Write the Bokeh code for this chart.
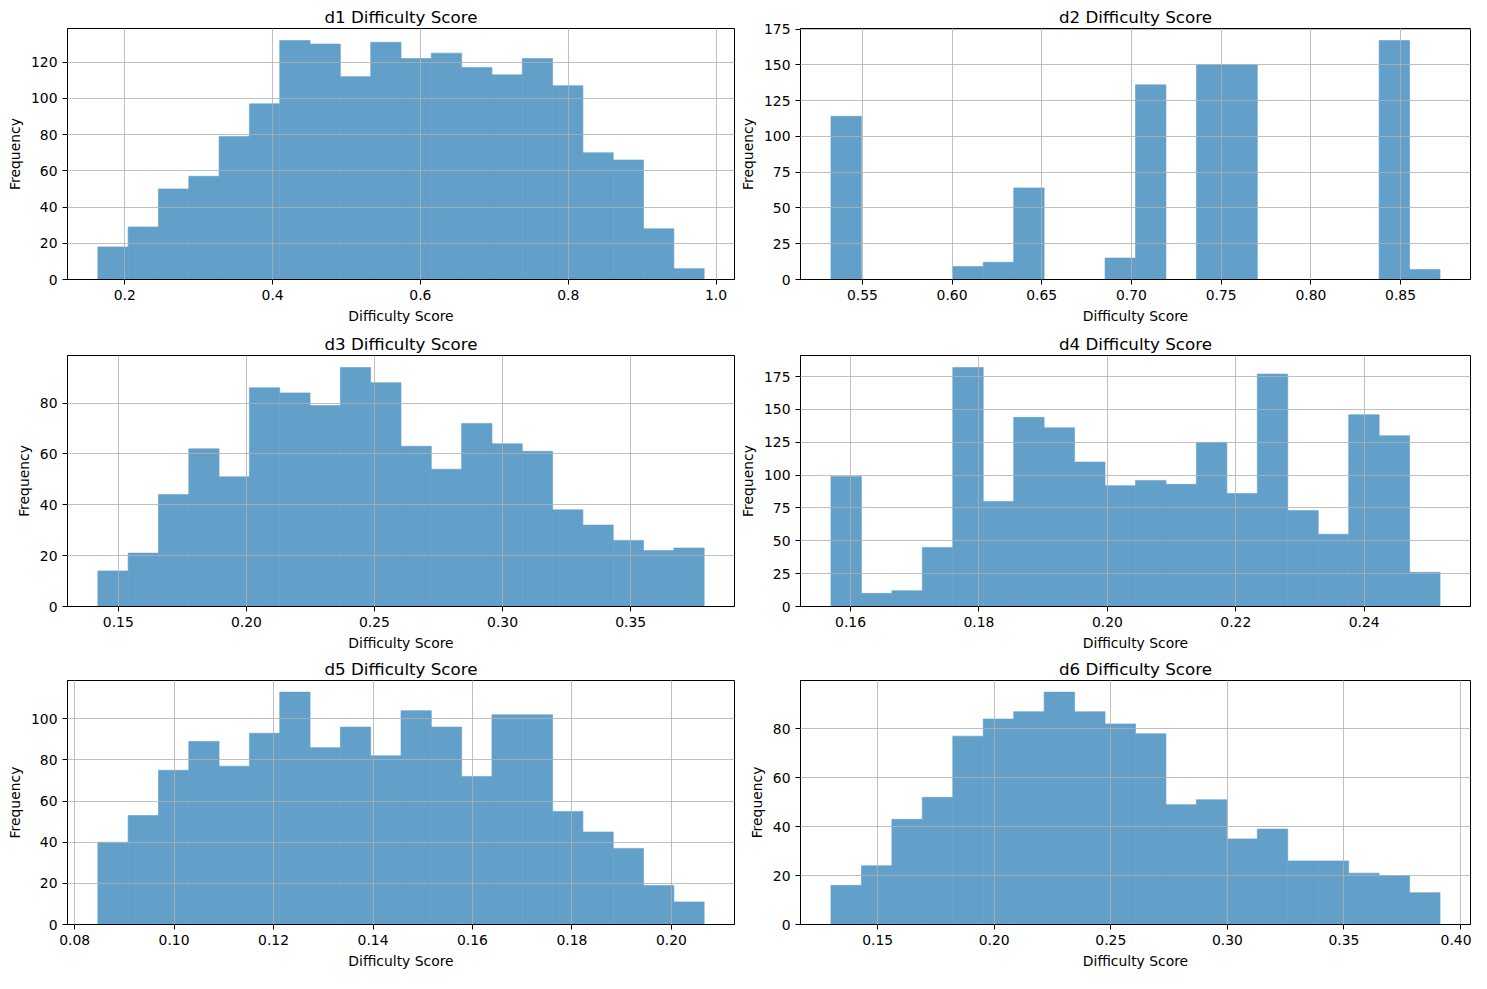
import numpy as np
from bokeh.plotting import figure
from bokeh.layouts import gridplot
from bokeh.models import Range1d, FixedTicker, PrintfTickFormatter
from bokeh.embed import file_html
from bokeh.resources import INLINE

# ---- data ----
titles = ["d1 Difficulty Score", "d2 Difficulty Score", "d3 Difficulty Score",
          "d4 Difficulty Score", "d5 Difficulty Score", "d6 Difficulty Score"]

d1_range = [0.1635, 0.984]
d1_counts = [18, 29, 50, 57, 79, 97, 132, 130, 112, 131, 122, 125, 117, 113, 122, 107, 70, 66, 28, 6]
d1_xticks = [0.2, 0.4, 0.6, 0.8, 1.0]
d1_yticks = [0, 20, 40, 60, 80, 100, 120]

d2_range = [0.5325, 0.872]
d2_counts = [114, 0, 0, 0, 9, 12, 64, 0, 0, 15, 136, 0, 150, 150, 0, 0, 0, 0, 167, 7]
d2_xticks = [0.55, 0.60, 0.65, 0.70, 0.75, 0.80, 0.85]
d2_yticks = [0, 25, 50, 75, 100, 125, 150, 175]

d3_range = [0.142, 0.3787]
d3_counts = [14, 21, 44, 62, 51, 86, 84, 79, 94, 88, 63, 54, 72, 64, 61, 38, 32, 26, 22, 23]
d3_xticks = [0.15, 0.20, 0.25, 0.30, 0.35]
d3_yticks = [0, 20, 40, 60, 80]

d4_range = [0.15695, 0.25181]
d4_counts = [99, 10, 12, 45, 182, 80, 144, 136, 110, 92, 96, 93, 125, 86, 177, 73, 55, 146, 130, 26]
d4_xticks = [0.16, 0.18, 0.20, 0.22, 0.24]
d4_yticks = [0, 25, 50, 75, 100, 125, 150, 175]

d5_range = [0.08467, 0.20658]
d5_counts = [40, 53, 75, 89, 77, 93, 113, 86, 96, 82, 104, 96, 72, 102, 102, 55, 45, 37, 19, 11]
d5_xticks = [0.08, 0.10, 0.12, 0.14, 0.16, 0.18, 0.20]
d5_yticks = [0, 20, 40, 60, 80, 100]

d6_range = [0.1300, 0.3912]
d6_counts = [16, 24, 43, 52, 77, 84, 87, 95, 87, 82, 78, 49, 51, 35, 39, 26, 26, 21, 20, 13]
d6_xticks = [0.15, 0.20, 0.25, 0.30, 0.35, 0.40]
d6_yticks = [0, 20, 40, 60, 80]

x_label = "Difficulty Score"
y_label = "Frequency"

panels = [
    (d1_range, d1_counts, d1_xticks, d1_yticks, "%.1f"),
    (d2_range, d2_counts, d2_xticks, d2_yticks, "%.2f"),
    (d3_range, d3_counts, d3_xticks, d3_yticks, "%.2f"),
    (d4_range, d4_counts, d4_xticks, d4_yticks, "%.2f"),
    (d5_range, d5_counts, d5_xticks, d5_yticks, "%.2f"),
    (d6_range, d6_counts, d6_xticks, d6_yticks, "%.2f"),
]

FONT = "DejaVu Sans"
BAR = "#62a0ca"   # tab:blue at alpha 0.7 over white
row_heights = [327, 327, 318]
row_tops = [28, 28, 26]
figs = []
for i, (rng, counts, xt, yt, fmt) in enumerate(panels):
    left_col = (i % 2 == 0)
    row = i // 2
    w = 735 if left_col else 736
    p = figure(width=w, height=row_heights[row], output_backend="svg", toolbar_location=None,
               min_border_left=67 if left_col else 65,
               min_border_right=1,
               min_border_top=row_tops[row], min_border_bottom=48)
    edges = np.linspace(rng[0], rng[1], len(counts) + 1)
    p.quad(left=edges[:-1], right=edges[1:], top=counts, bottom=0,
           fill_color=BAR, fill_alpha=1.0, line_color=BAR, line_width=0.6)
    span = rng[1] - rng[0]
    p.x_range = Range1d(rng[0] - 0.05 * span, rng[1] + 0.05 * span)
    p.y_range = Range1d(0, max(counts) * 1.05)

    p.title.text = titles[i]
    p.title.text_font = FONT
    p.title.text_font_size = "16.7px"
    p.title.text_font_style = "normal"
    p.title.text_color = "black"
    p.title.align = "center"
    p.title.standoff = 3

    for ax in (p.xaxis[0], p.yaxis[0]):
        ax.major_label_text_font = FONT
        ax.major_label_text_font_size = "13.9px"
        ax.major_label_text_color = "black"
        ax.axis_label_text_font = FONT
        ax.axis_label_text_font_size = "13.9px"
        ax.axis_label_text_font_style = "normal"
        ax.axis_label_text_color = "black"
        ax.axis_line_color = "black"
        ax.major_tick_line_color = "black"
        ax.major_tick_out = 5
        ax.major_tick_in = 0
        ax.minor_tick_line_color = None
        ax.major_label_standoff = 5
        ax.axis_label_standoff = 5
    p.xaxis[0].ticker = FixedTicker(ticks=xt)
    p.xaxis[0].formatter = PrintfTickFormatter(format=fmt)
    p.yaxis[0].ticker = FixedTicker(ticks=yt)
    p.yaxis[0].formatter = PrintfTickFormatter(format="%d")
    p.xaxis[0].axis_label = x_label
    p.yaxis[0].axis_label = y_label

    for g in (p.xgrid[0], p.ygrid[0]):
        g.grid_line_color = "#b0b0b0"
        g.grid_line_width = 0.8
        g.level = "annotation"
    p.outline_line_color = "black"
    p.outline_line_width = 1
    p.outline_line_alpha = 1
    figs.append(p)

grid = gridplot([[figs[0], figs[1]], [figs[2], figs[3]], [figs[4], figs[5]]],
                toolbar_location=None)

open("out.html", "w").write(file_html(grid, INLINE))
